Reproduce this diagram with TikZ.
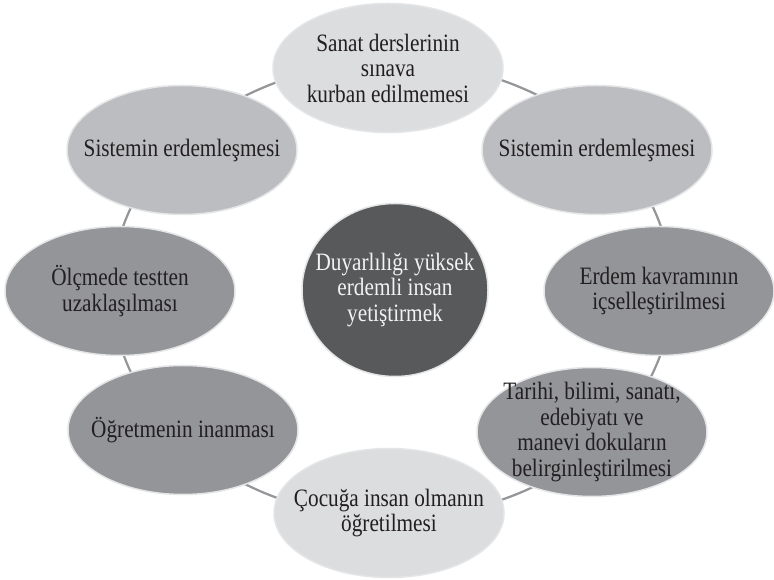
\documentclass[tikz,border=0pt]{standalone}
\usepackage{fontspec}
\setmainfont[FakeStretch=0.85]{Liberation Serif}
\usetikzlibrary{shapes.geometric,backgrounds}
\definecolor{lightfill}{RGB}{220,221,222}
\definecolor{midfill}{RGB}{188,189,192}
\definecolor{darkfill}{RGB}{147,149,152}
\definecolor{corefill}{RGB}{88,89,91}
\definecolor{rimcol}{RGB}{228,229,230}
\definecolor{linkcol}{RGB}{147,149,152}
\definecolor{inkcol}{RGB}{35,31,32}
\definecolor{coreink}{RGB}{242,242,242}
\begin{document}
\begin{tikzpicture}[x=1bp,y=1bp,
  bubble/.style={ellipse, draw=rimcol, line width=1.5bp, inner sep=-20bp,
    minimum width=230bp, minimum height=129bp, align=center, text=inkcol,
    font=\fontsize{25bp}{25.5bp}\selectfont},
  corebubble/.style={bubble, fill=corefill, text=coreink,
    minimum width=186bp, minimum height=173bp},
  link/.style={draw=linkcol, line width=2.2bp}]
\useasboundingbox (0,0) rectangle (774,580);
\node[bubble, fill=lightfill] (T) at (388,512) {Sanat derslerinin\\sınava\\kurban edilmemesi};
\node[bubble, fill=midfill] (TR) at (597,430) {Sistemin erdemleşmesi};
\node[bubble, fill=darkfill] (R) at (659,289) {Erdem kavramının\\içselleştirilmesi};
\node[bubble, fill=darkfill] (BR) at (592,148) {Tarihi, bilimi, sanatı,\\edebiyatı ve\\manevi dokuların\\belirginleştirilmesi};
\node[bubble, fill=lightfill] (B) at (389,67) {Çocuğa insan olmanın\\öğretilmesi};
\node[bubble, fill=darkfill] (BL) at (183,150) {Öğretmenin inanması};
\node[bubble, fill=darkfill] (L) at (120,289) {Ölçmede testten\\uzaklaşılması};
\node[bubble, fill=midfill] (TL) at (182,430) {Sistemin erdemleşmesi};
\node[corebubble] (C) at (395,290) {Duyarlılığı yüksek\\erdemli insan\\yetiştirmek};
\begin{scope}[on background layer]
\fill[white] (0,0) rectangle (774,580);
\coordinate (O) at (392,290);
\draw[link] (O) ++(90:280bp and 228bp) arc[start angle=90,end angle=40,x radius=280bp,y radius=228bp];
\draw[link] (O) ++(40:280bp and 228bp) arc[start angle=40,end angle=0,x radius=280bp,y radius=228bp];
\draw[link] (O) ++(0:280bp and 228bp) arc[start angle=0,end angle=-40,x radius=280bp,y radius=228bp];
\draw[link] (O) ++(-40:280bp and 228bp) arc[start angle=-40,end angle=-90,x radius=280bp,y radius=228bp];
\draw[link] (O) ++(-90:280bp and 228bp) arc[start angle=-90,end angle=-140,x radius=280bp,y radius=228bp];
\draw[link] (O) ++(-140:280bp and 228bp) arc[start angle=-140,end angle=-180,x radius=280bp,y radius=228bp];
\draw[link] (O) ++(180:280bp and 228bp) arc[start angle=180,end angle=140,x radius=280bp,y radius=228bp];
\draw[link] (O) ++(140:280bp and 228bp) arc[start angle=140,end angle=90,x radius=280bp,y radius=228bp];
\end{scope}
\end{tikzpicture}
\end{document}
